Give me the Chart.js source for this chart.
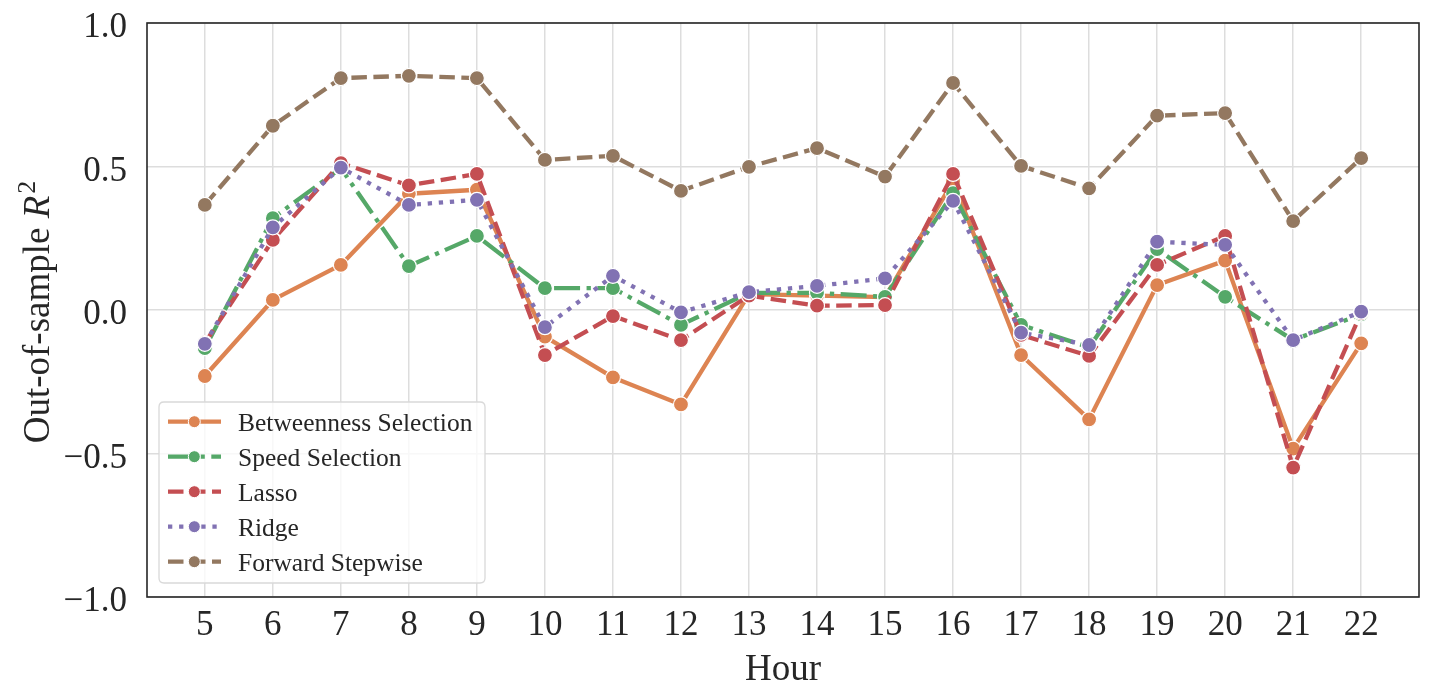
<!DOCTYPE html>
<html>
<head>
<meta charset="utf-8">
<script src="https://cdn.jsdelivr.net/npm/chart.js@4.4.1/dist/chart.umd.min.js"></script>
<style>
html,body{margin:0;padding:0;background:#fff;}
#wrap{width:1431px;height:699px;}
</style>
</head>
<body>
<div id="wrap"><canvas id="c" width="1431" height="699"></canvas></div>
<script>
const hours = [5,6,7,8,9,10,11,12,13,14,15,16,17,18,19,20,21,22];
const betweenness = [-0.230,0.035,0.157,0.405,0.419,-0.093,-0.235,-0.329,0.055,0.050,0.045,0.448,-0.157,-0.381,0.087,0.172,-0.483,-0.116];
const speed       = [-0.133,0.320,0.494,0.153,0.258,0.076,0.076,-0.052,0.060,0.060,0.046,0.407,-0.052,-0.130,0.212,0.046,-0.105,-0.015];
const lasso       = [-0.115,0.244,0.512,0.434,0.474,-0.157,-0.021,-0.105,0.050,0.015,0.017,0.474,-0.087,-0.160,0.157,0.258,-0.549,-0.010];
const ridge       = [-0.118,0.288,0.496,0.366,0.384,-0.060,0.119,-0.008,0.062,0.084,0.110,0.380,-0.079,-0.122,0.238,0.227,-0.105,-0.006];
const forward     = [0.366,0.642,0.808,0.816,0.808,0.523,0.537,0.415,0.499,0.564,0.465,0.791,0.502,0.424,0.677,0.686,0.310,0.529];
const seriesNames = ['Betweenness Selection','Speed Selection','Lasso','Ridge','Forward Stepwise'];
const yTickValues = [-1,-0.5,0,0.5,1];
const yTickLabels = ['\u22121.0','\u22120.5','0.0','0.5','1.0'];
const xTitle = 'Hour';

const colors = ['#DD8452','#55A868','#C44E52','#8172B3','#937860'];
const LW = 4.3;
const dashes = [[], [26,6.5,4.3,6.5], [15.5,6.5], [4.3,6.8], [15.5,6.5]];
const values = [betweenness, speed, lasso, ridge, forward];
const FONT = "'Liberation Serif', 'DejaVu Serif', serif";
const TXT = '#262626';

const datasets = values.map((arr,i)=>({
  label: seriesNames[i],
  data: arr.map((v,j)=>({x:hours[j], y:v})),
  borderColor: colors[i],
  backgroundColor: colors[i],
  borderWidth: LW,
  borderDash: dashes[i],
  borderCapStyle: 'butt',
  borderJoinStyle: 'round',
  pointRadius: 7.5,
  pointHoverRadius: 7.5,
  pointBackgroundColor: colors[i],
  pointBorderColor: '#ffffff',
  pointBorderWidth: 1.2,
  tension: 0,
  fill: false,
  order: 5 - i
}));

const decor = {
  id: 'decor',
  afterDatasetsDraw(chart){
    const ctx = chart.ctx, a = chart.chartArea;
    ctx.save();
    // frame
    ctx.strokeStyle = '#262626';
    ctx.lineWidth = 1.6;
    ctx.setLineDash([]);
    ctx.strokeRect(a.left, a.top, a.right - a.left, a.bottom - a.top);
    // legend
    const bx = 159, by = 402, bw = 326, bh = 181, r = 5;
    ctx.beginPath();
    ctx.moveTo(bx+r, by);
    ctx.lineTo(bx+bw-r, by); ctx.quadraticCurveTo(bx+bw, by, bx+bw, by+r);
    ctx.lineTo(bx+bw, by+bh-r); ctx.quadraticCurveTo(bx+bw, by+bh, bx+bw-r, by+bh);
    ctx.lineTo(bx+r, by+bh); ctx.quadraticCurveTo(bx, by+bh, bx, by+bh-r);
    ctx.lineTo(bx, by+r); ctx.quadraticCurveTo(bx, by, bx+r, by);
    ctx.closePath();
    ctx.fillStyle = 'rgba(255,255,255,0.8)';
    ctx.fill();
    ctx.strokeStyle = '#d9d9d9';
    ctx.lineWidth = 1.3;
    ctx.stroke();
    chart.data.datasets.forEach((ds,i)=>{
      const cy = 421.7 + i*35;
      ctx.save();
      ctx.beginPath();
      ctx.rect(168, cy-10, 53, 20);
      ctx.clip();
      ctx.strokeStyle = ds.borderColor;
      ctx.lineWidth = LW;
      ctx.lineCap = 'butt';
      ctx.setLineDash(ds.borderDash);
      ctx.beginPath();
      ctx.moveTo(168, cy); ctx.lineTo(221, cy);
      ctx.stroke();
      ctx.restore();
      ctx.setLineDash([]);
      ctx.beginPath();
      ctx.arc(194.3, cy, 6, 0, Math.PI*2);
      ctx.fillStyle = ds.borderColor;
      ctx.fill();
      ctx.strokeStyle = '#fff';
      ctx.lineWidth = 1;
      ctx.stroke();
      ctx.fillStyle = TXT;
      ctx.font = '25.5px ' + FONT;
      ctx.textAlign = 'left';
      ctx.textBaseline = 'alphabetic';
      ctx.fillText(ds.label, 238, cy + 9.5);
    });
    // x title
    ctx.fillStyle = TXT;
    ctx.font = '37px ' + FONT;
    ctx.textAlign = 'center';
    ctx.textBaseline = 'alphabetic';
    ctx.fillText(xTitle, (a.left + a.right)/2, 680);
    // y title with italic R and superscript 2
    ctx.save();
    ctx.translate(49, 312);
    ctx.rotate(-Math.PI/2);
    const p1 = 'Out-of-sample ', p2 = 'R', p3 = '2';
    const f1 = '37px ' + FONT, f2 = 'italic 37px ' + FONT, f3 = '26px ' + FONT;
    ctx.font = f1; const w1 = ctx.measureText(p1).width;
    ctx.font = f2; const w2 = ctx.measureText(p2).width;
    ctx.font = f3; const w3 = ctx.measureText(p3).width;
    let x0 = -(w1 + w2 + 2 + w3)/2;
    ctx.textAlign = 'left';
    ctx.font = f1; ctx.fillText(p1, x0, 0);
    ctx.font = f2; ctx.fillText(p2, x0 + w1, 0);
    ctx.font = f3; ctx.fillText(p3, x0 + w1 + w2 + 2, -14);
    ctx.restore();
    ctx.restore();
  }
};

new Chart(document.getElementById('c'), {
  type: 'line',
  data: { datasets },
  options: {
    responsive: false,
    animation: false,
    events: [],
    layout: { padding: { top: 23, right: 12, left: 0, bottom: 0 } },
    plugins: { legend: { display: false }, tooltip: { enabled: false } },
    scales: {
      x: {
        type: 'linear',
        min: 4.15, max: 22.85,
        afterBuildTicks: (s) => { s.ticks = hours.map(v => ({value: v})); },
        afterFit: (s) => { s.height = 102; s.paddingLeft = 0; s.paddingRight = 0; },
        grid: { color: '#dddddd', lineWidth: 1.5, drawTicks: false },
        border: { display: false },
        ticks: {
          padding: 8,
          color: TXT,
          font: { family: FONT, size: 35 },
          callback: (v) => String(v),
          maxRotation: 0, autoSkip: false
        }
      },
      y: {
        type: 'linear',
        min: -1, max: 1,
        afterBuildTicks: (s) => { s.ticks = yTickValues.map(v => ({value: v})); },
        afterFit: (s) => { s.width = 147; s.paddingTop = 0; s.paddingBottom = 0; },
        grid: { color: '#dddddd', lineWidth: 1.5, drawTicks: false },
        border: { display: false },
        ticks: {
          padding: 20,
          labelOffset: 5,
          color: TXT,
          font: { family: FONT, size: 35 },
          callback: (v) => yTickLabels[yTickValues.indexOf(v)]
        }
      }
    }
  },
  plugins: [decor]
});
</script>
</body>
</html>
